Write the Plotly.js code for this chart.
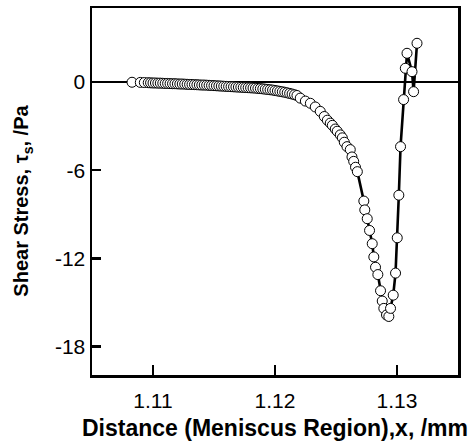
<!DOCTYPE html>
<html>
<head>
<meta charset="utf-8">
<script src="https://cdn.plot.ly/plotly-3.0.1.min.js"></script>
<style>html,body{margin:0;padding:0;background:#fff;}#chart{width:468px;height:441px;}</style>
</head>
<body>
<div id="chart"></div>
<script>
// Distance (mm)
var distance = [
  1.10828, 1.10896, 1.10929, 1.10961,
  1.1098, 1.1100, 1.1102, 1.1104, 1.1106, 1.1108, 1.1110, 1.1112, 1.1114, 1.1116,
  1.1118, 1.1120, 1.1122, 1.1124, 1.1126, 1.1128, 1.1130, 1.1132, 1.1134, 1.1136,
  1.1138, 1.1140, 1.1142, 1.1144, 1.1146, 1.1148, 1.1150, 1.1152, 1.1154, 1.1156,
  1.1158, 1.1160, 1.1162, 1.1164, 1.1166, 1.1168, 1.1170, 1.1172, 1.1174, 1.1176,
  1.1178, 1.1180, 1.1182, 1.1184, 1.1186, 1.1188, 1.1190, 1.1192, 1.1194, 1.1196,
  1.1198, 1.1200, 1.1202, 1.1204, 1.1206, 1.1208, 1.1210, 1.1212, 1.1214, 1.1216,
  1.1218,
  1.12207, 1.12249, 1.1229, 1.1233, 1.12371, 1.12404, 1.12429, 1.12453, 1.1247,
  1.12494, 1.1251, 1.12535, 1.12552, 1.12568, 1.1259,
  1.12617, 1.12631, 1.12645, 1.1266, 1.12675,
  1.12728, 1.12736, 1.12756, 1.12775, 1.12797, 1.1281, 1.12824, 1.12843,
  1.12865, 1.12879, 1.12892, 1.12914, 1.12933, 1.12947, 1.12969, 1.12988,
  1.13002, 1.13015, 1.13029,
  1.13054, 1.13068, 1.13082, 1.13123, 1.13136, 1.13164
];
// Shear stress (Pa)
var shearStress = [
  -0.02, -0.03, -0.04, -0.05,
  -0.06, -0.07, -0.07, -0.08, -0.08, -0.09, -0.10, -0.10, -0.11, -0.12,
  -0.12, -0.13, -0.14, -0.14, -0.15, -0.16, -0.17, -0.17, -0.18, -0.19,
  -0.20, -0.21, -0.21, -0.22, -0.23, -0.24, -0.25, -0.26, -0.27, -0.28,
  -0.29, -0.30, -0.31, -0.32, -0.33, -0.34, -0.35, -0.36, -0.37, -0.38,
  -0.39, -0.40, -0.41, -0.42, -0.44, -0.45, -0.47, -0.49, -0.51, -0.53,
  -0.55, -0.58, -0.61, -0.64, -0.67, -0.70, -0.74, -0.78, -0.82, -0.87,
  -0.92,
  -1.1, -1.3, -1.45, -1.7, -2.0, -2.35, -2.6, -2.8, -2.95,
  -3.2, -3.35, -3.6, -3.8, -4.1, -4.4,
  -4.6, -5.1, -5.4, -5.8, -6.1,
  -8.1, -8.7, -9.3, -10.1, -11.0, -11.9, -12.6, -13.1,
  -14.2, -14.9, -15.4, -15.85, -15.95, -15.4, -14.5, -13.0,
  -10.6, -7.7, -4.4,
  -1.2, 0.93, 1.95, 0.7, -0.66, 2.63
];
var xTickVals = [1.11, 1.12, 1.13];
var xTickText = ['1.11', '1.12', '1.13'];
var yTickVals = [0, -6, -12, -18];
var yTickText = ['0', '-6', '-12', '-18'];

var trace = {
  x: distance,
  y: shearStress,
  type: 'scatter',
  mode: 'lines+markers',
  line: {color: '#000', width: 2.6},
  marker: {symbol: 'circle', size: 10, color: '#fff', line: {color: '#000', width: 1}},
  cliponaxis: false,
  hoverinfo: 'none'
};

var font = 'Arial, "Liberation Sans", sans-serif';
var layout = {
  width: 468, height: 441,
  margin: {l: 92, r: 10, t: 8, b: 66},
  paper_bgcolor: '#fff', plot_bgcolor: '#fff',
  showlegend: false,
  font: {family: font, color: '#000', size: 21},
  xaxis: {
    range: [1.105, 1.135],
    tickmode: 'array', tickvals: xTickVals, ticktext: xTickText,
    ticks: 'inside', ticklen: 10, tickwidth: 2.5, tickcolor: '#000',
    ticklabelstandoff: 5,
    showline: true, linecolor: '#000', linewidth: 2.5, mirror: true,
    showgrid: false, zeroline: false,
    tickfont: {family: font, size: 21, color: '#000'}
  },
  yaxis: {
    range: [-19.93, 5.03],
    tickmode: 'array', tickvals: yTickVals, ticktext: yTickText,
    ticks: 'inside', ticklen: 9, tickwidth: 2.5, tickcolor: '#000',
    showline: true, linecolor: '#000', linewidth: 2.5, mirror: true,
    showgrid: false, zeroline: true, zerolinecolor: '#000', zerolinewidth: 2.5,
    tickfont: {family: font, size: 21, color: '#000'}
  },
  annotations: [
    {text: '<b>Distance (Meniscus Region),x, /mm</b>', xref: 'paper', yref: 'paper',
     x: 0.5, y: 0, yshift: -53, xanchor: 'center', yanchor: 'middle', showarrow: false,
     font: {family: font, size: 23, color: '#000'}},
    {text: '<b>Shear Stress, τ<sub>s</sub>, /Pa</b>', xref: 'paper', yref: 'paper',
     x: 0, xshift: -69, y: 0.475, xanchor: 'center', yanchor: 'middle', textangle: -90,
     showarrow: false, font: {family: font, size: 20, color: '#000'}}
  ]
};

Plotly.newPlot('chart', [trace], layout, {staticPlot: true, displayModeBar: false});
</script>
</body>
</html>
